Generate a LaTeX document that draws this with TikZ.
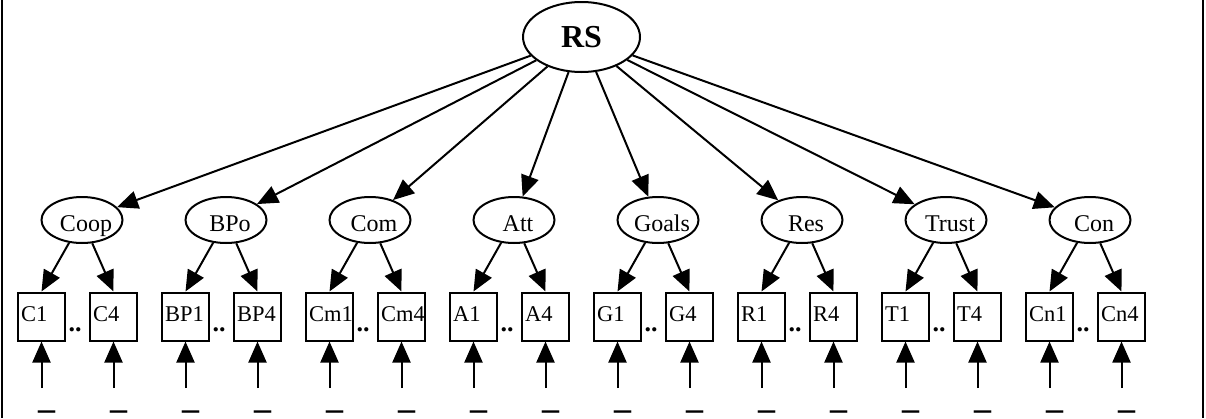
\documentclass[tikz,border=0pt]{standalone}
\usepackage{fontspec}
\setmainfont{Liberation Serif}
\usetikzlibrary{arrows.meta,shapes.geometric}
\begin{document}
\begin{tikzpicture}[x=1pt,y=-1pt,line width=2pt,
  top/.style={draw,ellipse,minimum width=117pt,minimum height=70pt,inner sep=0pt,
    font=\fontsize{32}{32}\selectfont\bfseries},
  lat/.style={draw,ellipse,minimum width=81pt,minimum height=46pt,inner sep=0pt,
    font=\fontsize{24}{24}\selectfont,text height=22pt,text depth=0pt,
    execute at begin node=\kern4pt,execute at end node=\kern-4pt},
  ind/.style={draw,rectangle,minimum width=47pt,minimum height=48pt,inner xsep=3pt,
    inner ysep=0pt,text width=41pt,align=left,font=\fontsize{22.5}{22.5}\selectfont,
    text depth=5pt},
  dotsty/.style={inner sep=0pt,anchor=base west,font=\fontsize{26}{26}\selectfont\bfseries},
  err/.style={inner sep=0pt,anchor=base west,font=\fontsize{34}{34}\selectfont\bfseries},
  arr/.style={-{Triangle[length=21pt,width=18pt]}}]
\useasboundingbox (0,0) rectangle (1206,418);
\draw[line width=2pt] (2,0) -- (2,418);
\draw[line width=2pt] (1203,0) -- (1203,418);
\node[top] (rs) at (581.5,37) {RS};
\foreach \i/\lab/\la/\lb in {1/Coop/C1/C4,2/BPo/BP1/BP4,3/Com/Cm1/Cm4,4/Att/A1/A4,
  5/Goals/G1/G4,6/Res/R1/R4,7/Trust/T1/T4,8/Con/Cn1/Cn4}{
  \pgfmathsetmacro\cx{82+144*(\i-1)}
  \node[lat] (g\i) at (\cx,220) {\lab};
  \node[ind] (a\i) at (\cx-40.5,316.5) {\la};
  \node[ind] (b\i) at (\cx+31.5,316.5) {\lb};
  \node[dotsty] (d\i) at (\cx-14.5,331.5) {..};
  \coordinate (sa\i) at (\cx-40.5,388);
  \coordinate (sb\i) at (\cx+31.5,388);
  \node[err] (ea\i) at (\cx-45,408.6) {\_};
  \node[err] (eb\i) at (\cx+27,408.6) {\_};
  \draw[arr] (rs) -- (g\i);
  \draw[arr] (g\i) -- (a\i.north);
  \draw[arr] (g\i) -- (b\i.north);
  \draw[arr] (sa\i) -- (a\i.south);
  \draw[arr] (sb\i) -- (b\i.south);
}
\end{tikzpicture}
\end{document}
